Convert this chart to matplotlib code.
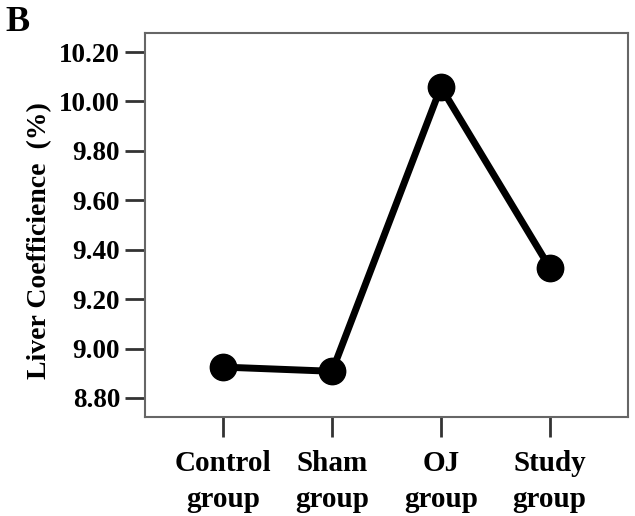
import matplotlib
matplotlib.use("Agg")
import matplotlib.pyplot as plt

categories = ["Control\ngroup", "Sham\ngroup", "OJ\ngroup", "Study\ngroup"]
values = [8.925, 8.908, 10.058, 9.328]
yticks = [8.80, 9.00, 9.20, 9.40, 9.60, 9.80, 10.00, 10.20]

plt.rcParams['font.family'] = ['Liberation Serif', 'DejaVu Serif']
plt.rcParams['font.weight'] = 'bold'

fig = plt.figure(figsize=(6.35, 5.16), dpi=100)
ax = fig.add_axes([145/635, 1 - 417/516, (628-145)/635, (417-33)/516])

x = list(range(len(categories)))
ax.plot(x, values, color='black', lw=5, marker='o', markersize=19, solid_joinstyle='round')

ax.set_xlim(-0.72, 3.72)
ax.set_ylim(8.723, 10.277)
ax.set_yticks(yticks)
ax.set_yticklabels([f"{v:.2f}" for v in yticks], fontsize=19.5, fontweight='bold')
ax.set_xticks(x)
ax.set_xticklabels(categories, fontsize=21, fontweight='bold', linespacing=1.45)
ax.tick_params(axis='both', length=14.5, width=2, color='#333333', pad=3.5)
ax.tick_params(axis='x', pad=9)
for s in ax.spines.values():
    s.set_color('#666666')
    s.set_linewidth(1.5)

ax.set_ylabel("Liver Coefficience  (%)", fontsize=20, fontweight='bold')
ax.yaxis.set_label_coords(-0.192, 0.46)
fig.text(5/635, 1 - 6/516, "B", fontsize=26, fontweight='bold', va='top', ha='left')

fig.savefig("out.png", dpi=100)
